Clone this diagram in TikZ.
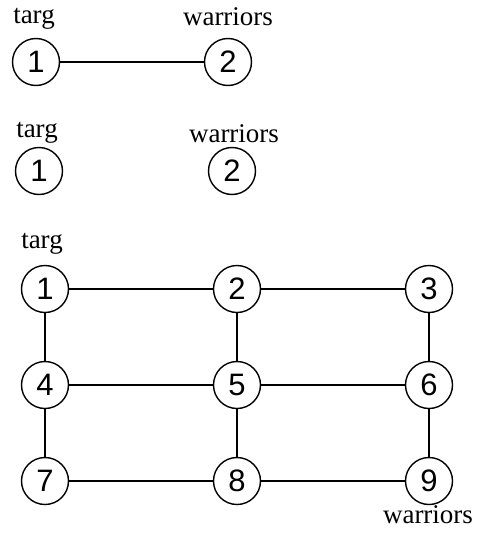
\documentclass[tikz,border=0pt]{standalone}
\usepackage{fontspec}
\setmainfont{Liberation Serif}
\newfontfamily\digitfont{Liberation Sans}
\begin{document}
\begin{tikzpicture}[x=1pt,y=-1pt,
  vtx/.style={circle,draw,line width=1.4pt,minimum size=47pt,inner sep=0pt,font=\digitfont\fontsize{31}{31}\selectfont},
  lbl/.style={anchor=base,inner sep=0pt,font=\fontsize{27}{27}\selectfont},
  edge/.style={line width=1.4pt}]
\useasboundingbox (0,0) rectangle (477,533);
% top graph
\node[vtx] (a1) at (36,62) {1};
\node[vtx] (a2) at (228,62) {2};
\node[lbl] (at) at (34,23) {targ};
\node[lbl] (aw) at (228,25) {warriors};
\draw[edge] (a1) -- (a2);
% second graph
\node[vtx] (b1) at (39,171) {1};
\node[vtx] (b2) at (232,171) {2};
\node[lbl] (bt) at (37,137) {targ};
\node[lbl] (bw) at (234,142) {warriors};
% grid
\node[vtx] (g1) at (45,289) {1};
\node[vtx] (g2) at (237,289) {2};
\node[vtx] (g3) at (429,289) {3};
\node[vtx] (g4) at (45,385) {4};
\node[vtx] (g5) at (237,385) {5};
\node[vtx] (g6) at (429,385) {6};
\node[vtx] (g7) at (45,481) {7};
\node[vtx] (g8) at (237,481) {8};
\node[vtx] (g9) at (429,481) {9};
\node[lbl] (gt) at (42,248) {targ};
\node[lbl] (gw) at (428,523) {warriors};
\draw[edge] (g1) -- (g2);
\draw[edge] (g2) -- (g3);
\draw[edge] (g4) -- (g5);
\draw[edge] (g5) -- (g6);
\draw[edge] (g7) -- (g8);
\draw[edge] (g8) -- (g9);
\draw[edge] (g1) -- (g4);
\draw[edge] (g4) -- (g7);
\draw[edge] (g2) -- (g5);
\draw[edge] (g5) -- (g8);
\draw[edge] (g3) -- (g6);
\draw[edge] (g6) -- (g9);
\end{tikzpicture}
\end{document}
